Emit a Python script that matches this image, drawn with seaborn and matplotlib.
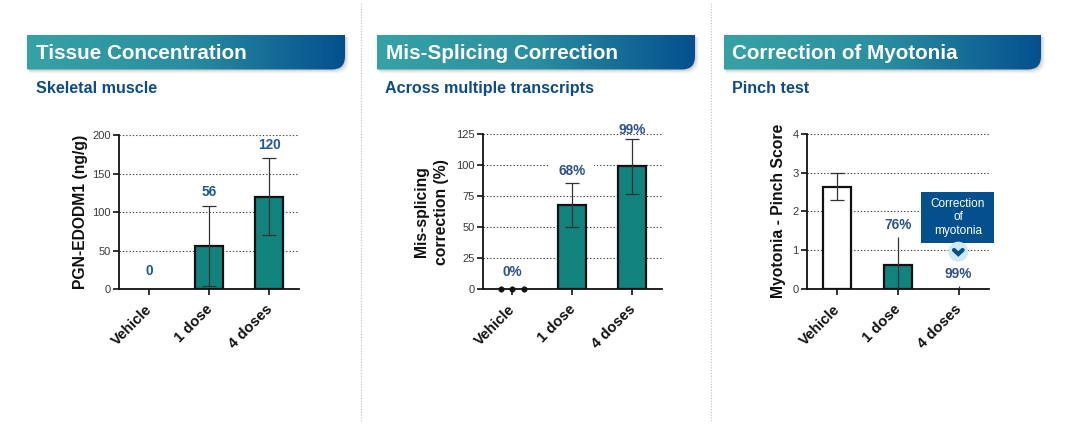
#import libraries
import numpy as np
import matplotlib
matplotlib.use('Agg')
import matplotlib.pyplot as plt
import seaborn as sns
from matplotlib.path import Path
from matplotlib.patches import PathPatch, Rectangle, Circle
from matplotlib.colors import LinearSegmentedColormap
from matplotlib.transforms import ScaledTranslation

W, H = 1080, 428
categories = ['Vehicle', '1 dose', '4 doses']

# values
tissue_means = [0, 56, 120]
tissue_low = [np.nan, 4, 70]
tissue_high = [np.nan, 108, 170.5]
tissue_labels = ['0', '56', '120']

splicing_means = [0, 68, 99]
splicing_low = [np.nan, 50, 76.5]
splicing_high = [np.nan, 86, 121]
splicing_labels = ['0%', '68%', '99%']
vehicle_points_x = [-0.19, 0, 0.19]
vehicle_points_y = [0, 0, 0]

myotonia_means = [2.63, 0.63, 0]
myotonia_low = [2.3, 0, 0]
myotonia_high = [3.0, 1.33, 0.08]
myotonia_labels = ['', '76%', '99%']

TEAL = '#12837c'
NAVY = '#04508f'
INK = '#111111'

sns.set_theme(style='white')
plt.rcParams['font.family'] = ['Liberation Sans', 'DejaVu Sans']

fig = plt.figure(figsize=(W / 100, H / 100), dpi=100, facecolor='white')


def add_panel(left, right, top, ymax, step, means, low, high, labels, label_px, ylabel, ylabel_x,
              colors=(TEAL, TEAL, TEAL), caps=(True, True, True), label_colors='#1c5a94'):
    bottom = 289
    ax = fig.add_axes([left / W, (H - bottom) / H, (right - left) / W, (bottom - top) / H])
    palette = dict(zip(categories, colors))
    sns.barplot(x=categories, y=means, hue=categories, palette=palette, legend=False,
                width=0.46, saturation=1, edgecolor=INK, linewidth=1.6, errorbar=None, ax=ax)
    for patch in ax.patches:
        if patch.get_height() == 0:
            patch.set_visible(False)
    for i in range(3):
        if not np.isnan(high[i]):
            ax.errorbar(i, means[i], yerr=[[means[i] - low[i]], [high[i] - means[i]]], fmt='none',
                        ecolor='#333333', elinewidth=0.9, capsize=5.3 if caps[i] else 0,
                        capthick=0.9, zorder=4)
        top_val = high[i] if not np.isnan(high[i]) else means[i]
        if labels[i]:
            ax.annotate(labels[i], (i, top_val), xytext=(0, label_px[i] * 0.72), textcoords='offset points',
                        ha='center', va='center', fontsize=9.8, fontweight='bold',
                        color=label_colors, annotation_clip=False, zorder=3)
    ax.set_xlim(-0.495, 2.5)
    ax.set_ylim(0, ymax)
    ax.set_yticks(np.arange(0, ymax + step, step))
    ax.yaxis.grid(True, linestyle=(0, (1.2, 1.8)), linewidth=0.8, color='#444444')
    ax.xaxis.grid(False)
    ax.set_axisbelow(True)
    sns.despine(ax=ax)
    for side in ['left', 'bottom']:
        ax.spines[side].set_linewidth(1.3)
        ax.spines[side].set_color(INK)
    ax.tick_params(axis='y', left=True, length=4.5, width=1.2, color=INK, labelsize=8,
                   labelcolor='#3a3a3a', pad=1.5)
    ax.tick_params(axis='x', bottom=True, length=4.5, width=1.2, color=INK, pad=5)
    shift = ScaledTranslation(-4 / 100, 0, fig.dpi_scale_trans)
    for tick in ax.get_xticklabels():
        tick.set(rotation=45, ha='right', rotation_mode='anchor', fontsize=10.6,
                 fontweight='bold', color=INK)
        tick.set_transform(tick.get_transform() + shift)
    ax.set_xlabel('')
    ax.set_ylabel(ylabel, fontsize=11.3, fontweight='bold', color=INK, linespacing=1.45, va='center')
    ax.yaxis.set_label_coords((ylabel_x - left) / (right - left), 0.5)
    return ax


add_panel(119.3, 299.3, 135.3, 200, 50, tissue_means, tissue_low, tissue_high, tissue_labels,
          [18, 14, 13], 'PGN-EDODM1 (ng/g)', 81)

ax2 = add_panel(482.7, 662, 134.3, 125, 25, splicing_means, splicing_low, splicing_high, splicing_labels,
                [17, 12, 9], 'Mis-splicing\ncorrection (%)', 431.5, label_colors='#2f5288')
sns.scatterplot(x=vehicle_points_x, y=vehicle_points_y, color=INK, s=16, ax=ax2, clip_on=False,
                edgecolor=INK, zorder=5, legend=False)
# white box of the 68% label breaks the gridline at 100
ax2.texts[1].set_bbox(dict(facecolor='white', edgecolor='none', pad=6))

add_panel(807, 989, 133.7, 4, 1, myotonia_means, myotonia_low, myotonia_high, myotonia_labels,
          [0, 12, 12], 'Myotonia - Pinch Score', 779, colors=('white', TEAL, TEAL),
          caps=(True, False, False), label_colors='#2f5288')

# overlay in pixel coordinates for banners, dividers and the callout
ov = fig.add_axes([0, 0, 1, 1], zorder=10)
ov.patch.set_alpha(0)
ov.axis('off')

banner_cmap = LinearSegmentedColormap.from_list('banner', ['#36a2a6', '#2a8ea0', '#04508f'])
gradient = np.linspace(0, 1, 256).reshape(1, -1)


def banner_path(x0, x1, y0, y1, r=13):
    verts = [(x0, y0), (x1, y0), (x1, y1 - r), (x1, y1), (x1 - r, y1), (x0, y1), (x0, y0)]
    codes = [Path.MOVETO, Path.LINETO, Path.LINETO, Path.CURVE3, Path.CURVE3, Path.LINETO, Path.CLOSEPOLY]
    return Path(verts, codes)


banners = [(27, 345, 'Tissue Concentration', 36.5, 'Skeletal muscle', 36.5),
           (377, 695, 'Mis-Splicing Correction', 386, 'Across multiple transcripts', 385),
           (723.5, 1041, 'Correction of Myotonia', 731.7, 'Pinch test', 731.5)]
for x0, x1, title, title_x, subtitle, sub_x in banners:
    for grow, alpha in [(4, 0.03), (3, 0.04), (2, 0.05), (1, 0.06)]:
        ov.add_patch(PathPatch(banner_path(x0 + 2, x1 + grow, 37, 69.5 + grow), fc='black', ec='none', alpha=alpha))
    im = ov.imshow(gradient, extent=(x0, x1, 69.5, 35), cmap=banner_cmap, aspect='auto', zorder=2)
    clip = PathPatch(banner_path(x0, x1, 35, 69.5), transform=ov.transData, fc='none', ec='none')
    ov.add_patch(clip)
    im.set_clip_path(clip)
    ov.text(title_x, 53, title, color='white', fontsize=14.85, fontweight='bold', va='center', zorder=3)
    ov.text(sub_x, 88, subtitle, color='#0f4c86', fontsize=11.6, fontweight='bold', va='center', zorder=3)

for x in [361, 711]:
    ov.plot([x, x], [3, 421], color='#bdbdbd', linewidth=0.8, linestyle=(0, (1, 1.5)), zorder=1)

# callout
ov.add_patch(Rectangle((921, 192.3), 73.3, 51, fc=NAVY, ec='none', zorder=3))
ov.text(958, 217.3, 'Correction\nof\nmyotonia', color='white', fontsize=8.5, ha='center', va='center',
        linespacing=1.2, zorder=4)
ov.add_patch(Circle((958.3, 251.7), 10, fc='#cfeaf1', ec='none', zorder=4))
ov.plot([954, 958.3, 962.6], [250, 254, 250], color=NAVY, linewidth=3, solid_capstyle='round',
        solid_joinstyle='miter', zorder=5)

ov.set_xlim(0, W)
ov.set_ylim(H, 0)

fig.savefig('out.png', dpi=100)
